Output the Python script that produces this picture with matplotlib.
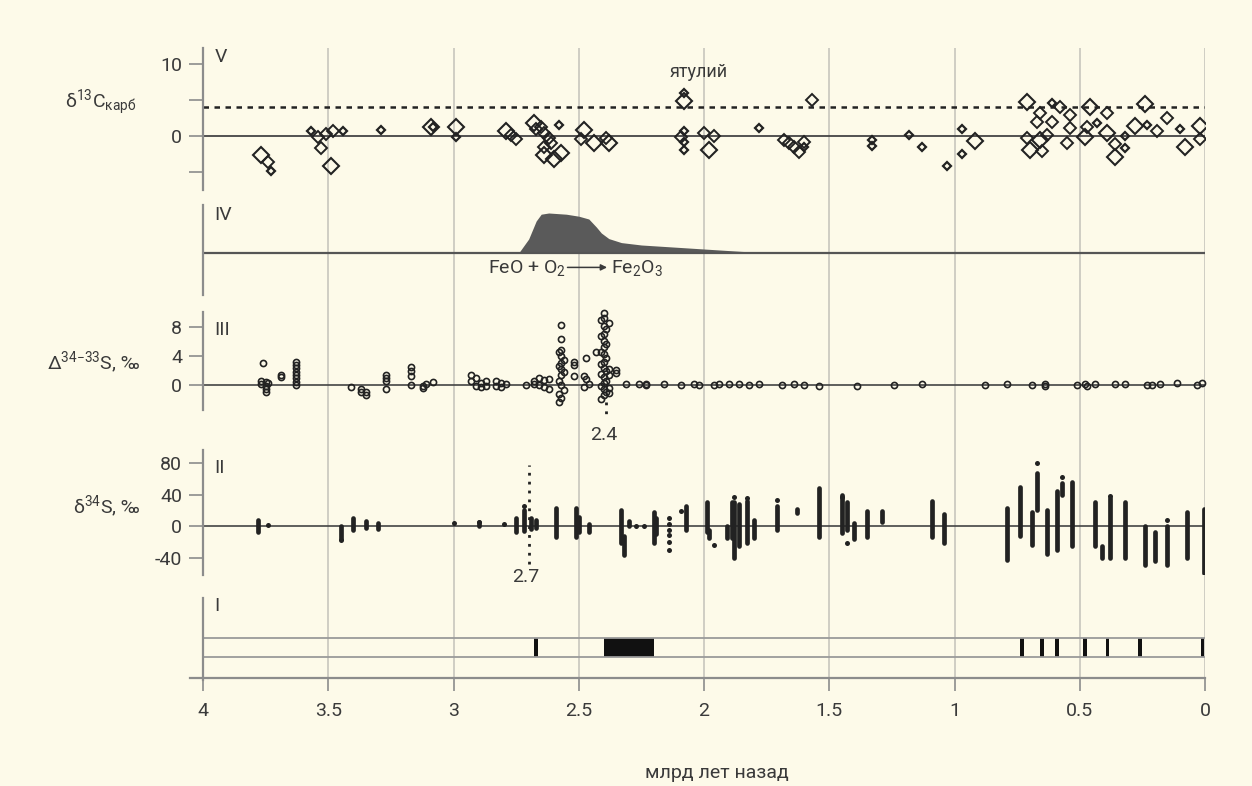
import matplotlib.pyplot as plt

# шрифт: гротеск с кириллицей, запасной - DejaVu
FONT = ['Roboto', 'DejaVu Sans']
plt.rcParams['font.family'] = FONT
plt.rcParams['mathtext.fontset'] = 'custom'
plt.rcParams['mathtext.rm'] = FONT[0]
plt.rcParams['mathtext.it'] = FONT[0]
plt.rcParams['axes.unicode_minus'] = False

# V: delta13C карбонатов (возраст, значение, класс размера ромба)
v_age = [3.77, 3.74, 3.73, 3.57, 3.54, 3.53, 3.51, 3.49, 3.48, 3.44, 3.29,
         3.09, 3.08, 2.99, 2.99, 2.79, 2.77, 2.75, 2.68, 2.67, 2.65, 2.64, 2.62,
         2.64, 2.61, 2.64, 2.60, 2.57, 2.58, 2.48, 2.49, 2.44, 2.38, 2.39,
         2.08, 2.08, 2.08, 2.09, 2.08, 2.08, 2.00, 1.98, 1.96, 1.78, 1.68, 1.66,
         1.64, 1.62, 1.60, 1.60, 1.57,
         1.33, 1.33, 1.18, 1.13, 1.03, 0.97, 0.97, 0.92, 0.71, 0.71, 0.70, 0.66,
         0.67, 0.66, 0.65, 0.63, 0.61, 0.61, 0.58, 0.54, 0.54, 0.55, 0.46, 0.47,
         0.48, 0.43, 0.39, 0.39, 0.36, 0.36, 0.32, 0.32, 0.28, 0.24, 0.23, 0.19,
         0.15, 0.10, 0.08, 0.02, 0.02]
v_val = [-2.6, -3.6, -4.9, 0.7, -0.1, -1.7, 0.3, -4.2, 0.7, 0.7, 0.8,
         1.25, 1.25, 1.25, -0.1, 0.7, 0.1, -0.4, 1.8, 1.0, 1.25, 0.4, -0.3,
         -1.5, -1.0, -2.6, -3.2, -2.4, 1.5, 0.8, -0.4, -1.0, -1.0, -0.3,
         6.0, 4.9, 0.7, -0.1, -0.8, -1.9, 0.4, -1.9, 0.0, 1.1, -0.6, -1.0,
         -1.5, -2.2, -0.8, -1.5, 5.0,
         -0.6, -1.4, 0.1, -1.5, -4.2, 1.0, -2.5, -0.7, 4.7, -0.3, -1.9, 3.2,
         1.9, -0.6, -2.1, 0.1, 4.6, 1.9, 4.0, 2.9, 1.1, -1.0, 4.0, 1.25,
         -0.1, 1.8, 3.2, 0.4, -1.1, -2.9, 0.0, -1.7, 1.4, 4.4, 1.5, 0.7,
         2.5, 1.0, -1.5, 1.4, -0.4]
v_class = [3, 2, 1, 1, 2, 2, 2, 3, 2, 1, 1,
           3, 1, 3, 1, 3, 2, 2, 3, 2, 2, 2, 2,
           2, 2, 3, 3, 3, 1, 3, 2, 3, 3, 2,
           1, 3, 1, 2, 1, 1, 2, 3, 2, 1, 2, 2,
           2, 2, 2, 1, 2,
           1, 1, 1, 1, 1, 1, 1, 3, 3, 2, 3, 2,
           2, 3, 2, 2, 1, 2, 2, 2, 2, 2, 3, 2,
           3, 1, 2, 3, 2, 3, 1, 1, 3, 3, 1, 2,
           2, 1, 3, 3, 2]

# IV: огибающая окисления железа
iv_age = [2.74, 2.70, 2.67, 2.65, 2.62, 2.55, 2.50, 2.46, 2.43, 2.41,
          2.38, 2.33, 2.25, 2.10, 1.95, 1.85, 1.72]
iv_val = [0.0, 0.35, 0.8, 0.97, 1.0, 0.97, 0.92, 0.85, 0.65, 0.5,
          0.36, 0.26, 0.2, 0.14, 0.08, 0.04, 0.0]

# III: Delta 34-33 S
d33_age = [3.76, 3.77, 3.77, 3.75, 3.75, 3.75, 3.75, 3.74,
           3.69, 3.69,
           3.63, 3.63, 3.63, 3.63, 3.63, 3.63, 3.63, 3.63,
           3.41, 3.37, 3.37, 3.35, 3.35,
           3.27, 3.27, 3.27, 3.27,
           3.17, 3.17, 3.17, 3.17,
           3.12, 3.12, 3.11, 3.08,
           2.93, 2.93, 2.91, 2.91, 2.89, 2.89, 2.87, 2.87,
           2.83, 2.83, 2.81, 2.81, 2.79,
           2.71,
           2.68, 2.68, 2.66, 2.66, 2.64, 2.64, 2.62, 2.62,
           2.57, 2.57, 2.57, 2.58, 2.57, 2.56, 2.57, 2.58, 2.57, 2.56, 2.57,
           2.58, 2.57, 2.56, 2.58, 2.57, 2.58,
           2.52, 2.52, 2.52,
           2.47, 2.48, 2.47, 2.46, 2.48,
           2.43,
           2.40, 2.40, 2.41, 2.40, 2.39, 2.40, 2.41, 2.40, 2.39, 2.40, 2.41,
           2.40, 2.39, 2.40, 2.41, 2.40, 2.39, 2.41, 2.40, 2.39, 2.40, 2.41,
           2.40, 2.39, 2.40, 2.41,
           2.38, 2.38, 2.38, 2.38, 2.38,
           2.35, 2.35,
           2.31, 2.26, 2.23, 2.23, 2.16, 2.09, 2.04, 2.02, 1.96, 1.94, 1.90,
           1.86, 1.82, 1.78, 1.69, 1.64, 1.60, 1.54, 1.39, 1.24, 1.13, 0.88,
           0.79, 0.69, 0.64, 0.64, 0.51, 0.48, 0.47, 0.44, 0.36, 0.32, 0.23,
           0.21, 0.18, 0.11, 0.03, 0.01]
d33_val = [3.1, 0.5, 0.2, 0.4, -0.1, -0.5, -0.9, 0.3,
           1.4, 1.1,
           3.2, 2.8, 2.3, 1.8, 1.4, 0.95, 0.45, 0.0,
           -0.3, -1.0, -0.6, -1.4, -0.9,
           1.4, 1.0, 0.6, -0.5,
           2.5, 1.9, 1.3, 0.0,
           -0.2, -0.4, 0.2, 0.4,
           1.4, 0.5, 0.9, -0.2, 0.3, -0.3, 0.5, -0.2,
           0.5, -0.2, 0.3, -0.3, 0.1,
           0.0,
           0.6, 0.2, 0.9, 0.0, 0.7, -0.3, 0.8, -0.6,
           8.3, 6.3, 4.8, 4.6, 4.0, 3.5, 3.0, 2.6, 2.2, 1.8, 1.4,
           0.5, 0.0, -0.7, -1.3, -1.8, -2.3,
           3.2, 2.7, 1.2,
           3.7, 1.3, 0.8, 0.2, -0.3,
           4.5,
           9.9, 9.3, 8.9, 8.2, 7.7, 7.1, 6.8, 6.1, 5.6, 5.2, 4.6,
           4.3, 3.7, 3.2, 2.9, 2.3, 1.9, 1.5, 1.1, 0.6, 0.3, -0.1,
           -0.5, -0.9, -1.4, -1.9,
           8.5, 2.2, 1.4, -0.4, -1.1,
           2.1, 1.6,
           0.1, 0.1, 0.2, 0.0, 0.2, 0.0, 0.1, 0.0, 0.0, 0.1, 0.1,
           0.1, 0.0, 0.1, 0.0, 0.1, 0.0, -0.1, -0.1, 0.0, 0.1, 0.0,
           0.1, 0.0, 0.2, -0.1, 0.0, 0.1, -0.1, 0.1, 0.1, 0.1, 0.0,
           0.0, 0.1, 0.3, 0.0, 0.3]

# II: delta34S - вертикальные серии (возраст, минимум, максимум) и отдельные точки
s34_age = [3.78, 3.45, 3.40, 3.35, 3.30, 2.90, 2.75, 2.72, 2.69, 2.67,
           2.59, 2.51, 2.50, 2.46, 2.33, 2.32, 2.30, 2.20, 2.19, 2.07,
           1.99, 1.98, 1.91, 1.89, 1.88, 1.86, 1.83, 1.80, 1.71, 1.63,
           1.54, 1.45, 1.43, 1.40, 1.35, 1.29, 1.09, 1.04, 0.79, 0.74,
           0.69, 0.67, 0.63, 0.59, 0.57, 0.53, 0.44, 0.41, 0.38, 0.32,
           0.24, 0.20, 0.15, 0.07, 0.005]
s34_lo = [-8, -17, -5, -3, -4, 0, -8, -6, -4, -2,
          -14, -14, -8, -7, -22, -37, 0, -22, -10, -5,
          -8, -15, -15, -15, -40, -25, -22, -15, -5, 17,
          -14, -9, -5, -17, -14, 5, -14, -21, -43, -13,
          -24, 20, -35, -30, 40, -26, -26, -40, -40, -40,
          -49, -45, -50, -40, -60]
s34_hi = [8, 0, 10, 6, 4, 5, 10, 20, 10, 8,
          23, 23, 12, 3, 20, -13, 6, 18, 10, 25,
          30, -5, 0, 30, 30, 28, 32, 8, 25, 22,
          48, 40, 30, 4, 19, 19, 32, 15, 23, 50,
          18, 67, 20, 45, 55, 56, 30, -26, 35, 30,
          0, -8, 0, 18, 22]
s34_pt_age = [3.74, 3.45, 3.00, 2.90, 2.80, 2.72, 2.27, 2.24, 2.14, 2.14,
              2.14, 2.14, 2.14, 2.14, 2.09, 1.96, 1.88, 1.83, 1.71, 1.45,
              1.43, 0.67, 0.57, 0.38, 0.15]
s34_pt_val = [1, -18, 4, 5, 3, 25, 0, 0, 10, 3,
              -5, -12, -20, -30, 19, -24, 37, 35, 33, 37,
              -22, 80, 62, 38, 8]

# I: события (тонкие отметки и широкий интервал)
ev_age = [2.67, 0.73, 0.65, 0.59, 0.48, 0.39, 0.26, 0.01]
ev_span = (2.40, 2.20)

x_ticks = [4, 3.5, 3, 2.5, 2, 1.5, 1, 0.5, 0]
x_labels = ['4', '3.5', '3', '2.5', '2', '1.5', '1', '0.5', '0']

bg = '#FDFAE9'
ink = '#222222'
txt = '#3a3a3a'
axcol = '#8c8c8c'
gridcol = '#cfcdc3'

W, H = 1252, 786
fig = plt.figure(figsize=(W / 100, H / 100), dpi=100, facecolor=bg)
XLIM = (4.052, 0)


def box(top, bottom):
    return [190 / W, 1 - bottom / H, 1015 / W, (bottom - top) / H]


# общая подложка: сетка по времени и ось x
base = fig.add_axes(box(48, 678))
base.set_facecolor(bg)
base.set_xlim(XLIM)
base.set_ylim(0, 1)
for s in ['top', 'right', 'left']:
    base.spines[s].set_visible(False)
base.spines['bottom'].set_color(axcol)
base.spines['bottom'].set_linewidth(1.6)
base.set_yticks([])
base.set_xticks(x_ticks)
base.set_xticklabels(x_labels)
base.tick_params(axis='x', length=9, width=1.2, color=axcol, labelsize=14,
                 labelcolor=txt, pad=8)
for t in x_ticks[1:]:
    base.axvline(t, color=gridcol, lw=1.4, zorder=0)
fig.text(717 / W, 1 - 773 / H, 'млрд лет назад', ha='center', va='center',
         fontsize=14, color=txt)


def panel(top, bottom, ylim):
    ax = fig.add_axes(box(top, bottom))
    ax.set_xlim(XLIM)
    ax.set_ylim(ylim)
    ax.patch.set_alpha(0)
    for s in ['top', 'right', 'bottom']:
        ax.spines[s].set_visible(False)
    ax.spines['left'].set_position(('data', 4))
    ax.spines['left'].set_color(axcol)
    ax.spines['left'].set_linewidth(1.6)
    ax.set_xticks([])
    ax.tick_params(axis='y', length=10, width=1.2, color=axcol, labelsize=14,
                   labelcolor=txt, pad=5)
    return ax


# V
ax5 = panel(48, 190, (-7.5, 12.22))
ax5.set_yticks([10, 5, 0, -5])
ax5.set_yticklabels(['10', '', '0', ''])
ax5.hlines(0, 4, 0, color='#444444', lw=1.3)
ax5.hlines(4, 4, 0, color=ink, lw=1.8, linestyles=(0, (2.2, 2.2)))
sizes = {1: 4.2, 2: 6.0, 3: 8.2}
widths = {1: 1.6, 2: 1.4, 3: 1.5}
for c in [3, 2, 1]:
    xs = [a for a, k in zip(v_age, v_class) if k == c]
    ys = [v for v, k in zip(v_val, v_class) if k == c]
    ax5.plot(xs, ys, 'D', ms=sizes[c], mfc='none', mec=ink, mew=widths[c])
ax5.text(2.02, 8.9, 'ятулий', ha='center', va='center', fontsize=13, color=txt)
ax5.text(3.955, 11.0, 'V', ha='left', va='center', fontsize=14, color=txt)
fig.text(137 / W, 1 - 103 / H, r'δ$^{13}$C$_{\mathrm{карб}}$', ha='right',
         va='center', fontsize=14, color=txt)

# IV
ax4 = panel(205, 295, (-1.05, 1.2))
ax4.set_yticks([])
ax4.fill_between(iv_age, iv_val, 0, color='#5a5a5a', lw=0)
ax4.hlines(0, 4, 0, color='#555555', lw=1.6)
ax4.text(3.955, 0.95, 'IV', ha='left', va='center', fontsize=14, color=txt)
ax4.text(2.553, -0.38, 'FeO + O$_2$', ha='right', va='center', fontsize=14,
         color=txt)
ax4.annotate('', xy=(2.387, -0.36), xytext=(2.545, -0.36),
             arrowprops=dict(arrowstyle='-|>', color=txt, lw=1.1,
                             mutation_scale=9, shrinkA=0, shrinkB=0))
ax4.text(2.371, -0.38, 'Fe$_2$O$_3$', ha='left', va='center', fontsize=14,
         color=txt)

# III
ax3 = panel(312, 410, (-3.45, 10.07))
ax3.set_yticks([8, 4, 0])
ax3.hlines(0, 4, 0, color='#444444', lw=1.2)
ax3.plot(d33_age, d33_val, 'o', ms=4.4, mfc='none', mec=ink, mew=1.2,
         clip_on=False)
ax3.vlines(2.39, -2.3, -4.7, color=ink, lw=2.0, linestyles=(0, (1, 2.2)),
           clip_on=False)
ax3.text(2.40, -6.9, '2.4', ha='center', va='center', fontsize=14, color=txt)
ax3.text(3.955, 7.6, 'III', ha='left', va='center', fontsize=14, color=txt)
fig.text(140 / W, 1 - 363 / H, r'Δ$^{34\mathrm{-}33}$S, ‰', ha='right',
         va='center', fontsize=14, color=txt)

# II
ax2 = panel(450, 575, (-62.2, 96.5))
ax2.set_yticks([80, 40, 0, -40])
ax2.hlines(0, 4, 0, color='#444444', lw=1.2)
ax2.vlines(2.70, -48, 78, color=ink, lw=2.0, linestyles=(0, (1, 2.2)))
ax2.vlines(s34_age, s34_lo, s34_hi, color=ink, lw=3.4, capstyle='round')
ax2.plot(s34_pt_age, s34_pt_val, 'o', ms=3.6, color=ink, mew=0)
ax2.text(2.71, -65, '2.7', ha='center', va='center', fontsize=14, color=txt)
ax2.text(3.955, 73.6, 'II', ha='left', va='center', fontsize=14, color=txt)
fig.text(140 / W, 1 - 507 / H, r'δ$^{34}$S, ‰', ha='right', va='center',
         fontsize=14, color=txt)

# I
ax1 = panel(598, 680, (0, 1))
ax1.set_yticks([])
lo, hi = 0.28, 0.512
ax1.hlines([lo, hi], 4, 0, color='#9a9a9a', lw=1.3)
ax1.bar(ev_age, hi - lo, width=0.014, bottom=lo, color='#111111', lw=0)
ax1.bar((ev_span[0] + ev_span[1]) / 2, hi - lo, width=ev_span[0] - ev_span[1],
        bottom=lo, color='#111111', lw=0)
ax1.text(3.955, 0.9, 'I', ha='left', va='center', fontsize=14, color=txt)

fig.savefig('out.png', dpi=100, facecolor=bg)
